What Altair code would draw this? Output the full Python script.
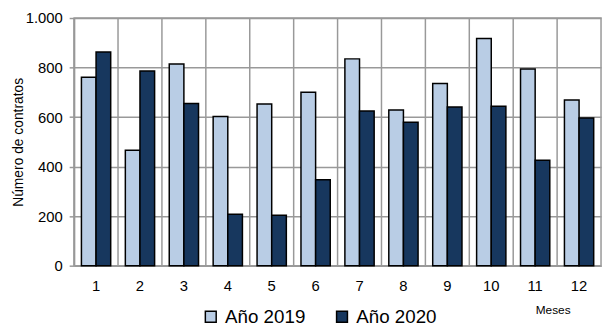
import altair as alt
import pandas as pd

meses = [1, 2, 3, 4, 5, 6, 7, 8, 9, 10, 11, 12]
v2019 = [761, 466, 814, 602, 653, 700, 835, 629, 736, 917, 794, 669]
v2020 = [863, 786, 655, 208, 204, 347, 625, 579, 641, 644, 426, 596]
series = ["Año 2019", "Año 2020"]
colors = ["#B9CDE5", "#17375E"]
y_ticks = [0, 200, 400, 600, 800, 1000]

rows = []
for m, a, b in zip(meses, v2019, v2020):
    rows.append({"mes": m, "serie": series[0], "valor": a})
    rows.append({"mes": m, "serie": series[1], "valor": b})
df = pd.DataFrame(rows)
df_r = pd.DataFrame({"mes": meses})

GRID = "#999999"
FONT = "Liberation Sans"

xscale = alt.Scale(paddingInner=0, paddingOuter=0)
xaxis = alt.Axis(
    title="Meses",
    labelAngle=0,
    labelFontSize=15,
    labelColor="black",
    labelPadding=13,
    ticks=False,
    grid=False,
    domainColor=GRID,
    domainWidth=1.5,
    titleFontSize=12,
    titleFontWeight="normal",
    titleColor="black",
    titleX=485,
    titleY=44,
    titleAlign="center",
    titleBaseline="middle",
)

rules = alt.Chart(df_r).mark_rule(color=GRID, strokeWidth=1.5).encode(
    x=alt.X("mes:O", bandPosition=0, scale=xscale, axis=xaxis)
)

bars = alt.Chart(df).mark_bar(stroke="black", strokeWidth=1.5).encode(
    x=alt.X("mes:O", scale=xscale, axis=xaxis),
    xOffset=alt.XOffset("serie:N", scale=alt.Scale(paddingInner=0, paddingOuter=0.5)),
    y=alt.Y(
        "valor:Q",
        scale=alt.Scale(domain=[0, 1000], nice=False),
        axis=alt.Axis(
            values=y_ticks,
            title="Número de contratos",
            labelExpr="replace(format(datum.value, ','), ',', '.')",
            labelFontSize=15,
            labelColor="black",
            labelPadding=7,
            tickSize=5,
            tickColor=GRID,
            tickWidth=1.5,
            grid=True,
            gridColor=GRID,
            gridWidth=1.5,
            domainColor=GRID,
            domainWidth=1.5,
            titleFontSize=14,
            titleFontWeight="normal",
            titleColor="black",
            titleX=-56,
            titleY=125.5,
            titleAngle=270,
            titleAlign="center",
            titleBaseline="middle",
        ),
    ),
    color=alt.Color(
        "serie:N",
        scale=alt.Scale(domain=series, range=colors),
        legend=alt.Legend(
            title=None,
            orient="none",
            legendX=129,
            legendY=293,
            direction="horizontal",
            symbolType="square",
            symbolSize=121,
            symbolStrokeColor="black",
            symbolStrokeWidth=1.5,
            labelFontSize=19,
            labelColor="black",
            labelOffset=5,
            columnPadding=27,
            padding=0,
        ),
    ),
)

chart = (
    alt.layer(rules, bars)
    .properties(
        width=534,
        height=251,
        autosize=alt.AutoSizeParams(type="none"),
        padding={"left": 67, "top": 8, "right": 2, "bottom": 61},
    )
    .configure(font=FONT)
    .configure_view(stroke=GRID, strokeWidth=1.5)
)

chart.save("out.html", embed_options={"renderer": "svg", "actions": False})
